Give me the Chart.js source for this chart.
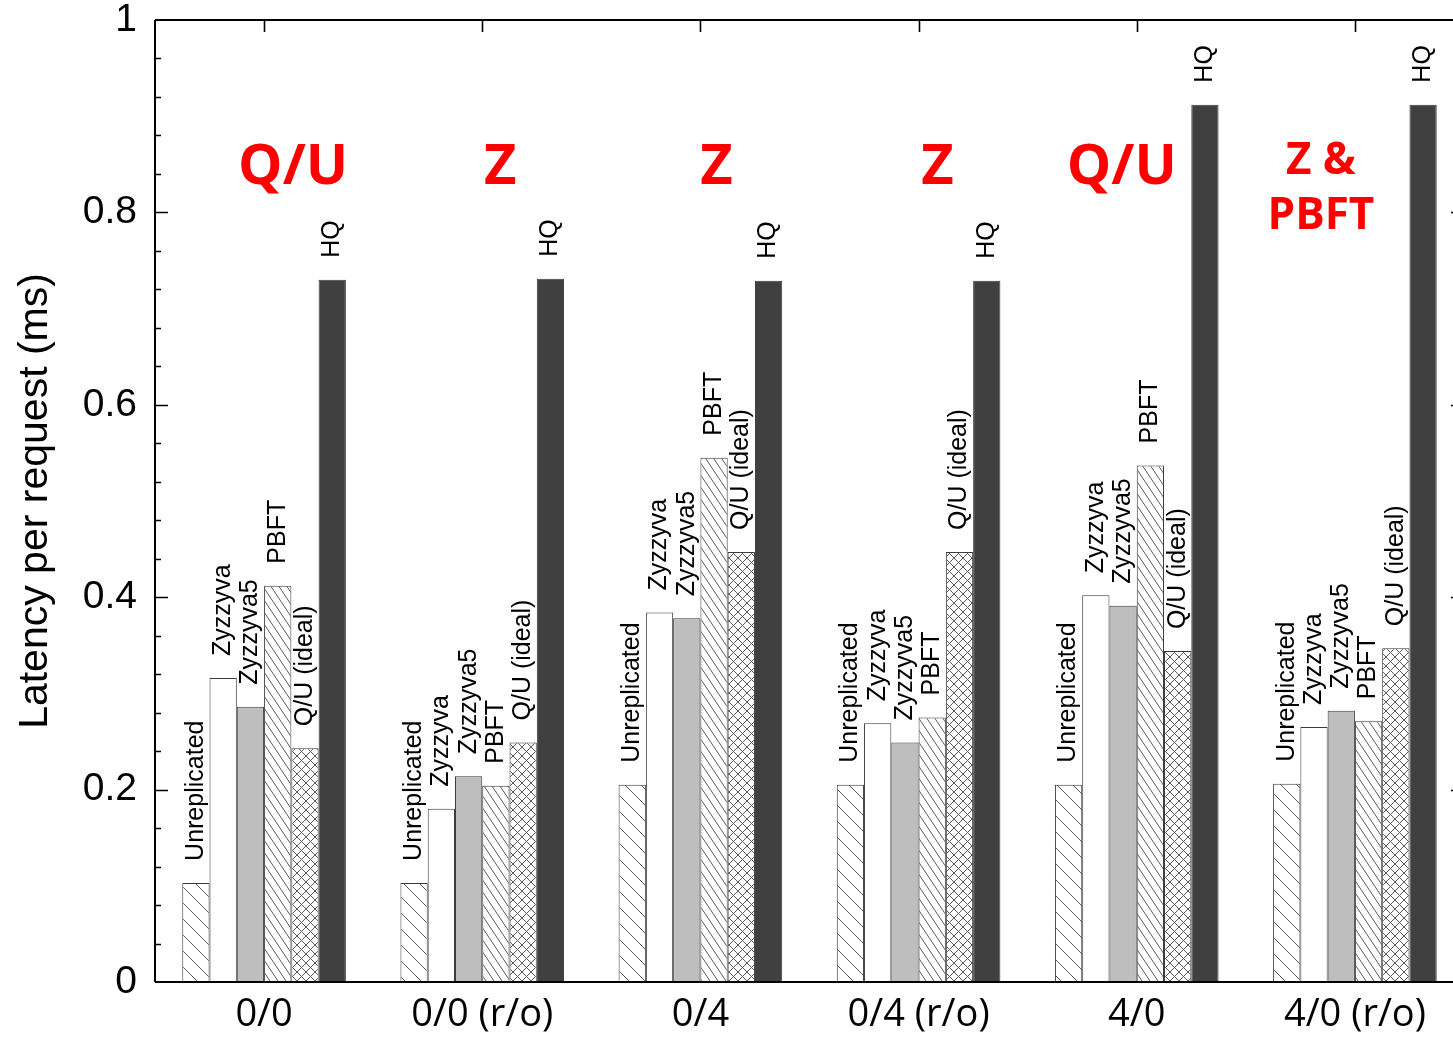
<!DOCTYPE html>
<html>
<head>
<meta charset="utf-8">
<title>Latency per request</title>
<script src="https://cdn.jsdelivr.net/npm/chart.js@4.4.1/dist/chart.umd.min.js"></script>
<style>
  html, body { margin: 0; padding: 0; background: #fff; overflow: hidden; }
  #wrap { width: 1453px; height: 1038px; overflow: hidden; position: relative; }
  canvas { display: block; }
</style>
</head>
<body>
<div id="wrap"><canvas id="chart" width="1480" height="1038"></canvas></div>
<script>
// Workload configurations (x categories)
const categories = ["0/0", "0/0 (r/o)", "0/4", "0/4 (r/o)", "4/0", "4/0 (r/o)"];

// Latency per request (ms) for each protocol
const unreplicated = [0.103, 0.103, 0.205, 0.205, 0.205, 0.206];
const zyzzyva      = [0.316, 0.180, 0.384, 0.269, 0.402, 0.265];
const zyzzyva5     = [0.286, 0.214, 0.378, 0.249, 0.391, 0.282];
const pbft         = [0.412, 0.204, 0.545, 0.275, 0.537, 0.271];
const quIdeal      = [0.243, 0.249, 0.447, 0.447, 0.344, 0.347];
const hq           = [0.730, 0.731, 0.729, 0.729, 0.912, 0.912];

// Protocol names
const seriesNames = ["Unreplicated", "Zyzzyva", "Zyzzyva5", "PBFT", "Q/U (ideal)", "HQ"];

// Best protocol per configuration (drawn in red above each group)
const winners = [["Q/U"], ["Z"], ["Z"], ["Z"], ["Q/U"], ["Z &", "PBFT"]];

// Y axis ticks
const yMin = 0, yMax = 1, yStep = 0.2, yMinorStep = 0.04;

// ---- hatch patterns ----
function makePattern(w, h, draw, bg) {
  const c = document.createElement('canvas');
  c.width = w; c.height = h;
  const g = c.getContext('2d');
  g.fillStyle = bg || '#ffffff';
  g.fillRect(0, 0, w, h);
  g.strokeStyle = '#5a5a5a';
  g.lineWidth = 1;
  g.beginPath();
  draw(g, w, h);
  g.stroke();
  return g.createPattern(c, 'repeat');
}
function backslash(g, w, h) {
  for (let k = -w; k <= w; k += w) { g.moveTo(k, 0); g.lineTo(k + w, h); }
}
function crossHatch(g, w, h) {
  for (let k = -w; k <= w; k += w) {
    g.moveTo(k, 0); g.lineTo(k + w, h);
    g.moveTo(k + w, 0); g.lineTo(k, h);
  }
}
const sparseHatch = makePattern(16, 16, backslash);
const steepHatch  = makePattern(8, 12, backslash);
const crossFill   = makePattern(9, 9, crossHatch);

const fills = [sparseHatch, '#ffffff', '#bebebe', steepHatch, crossFill, '#404040'];
const seriesValues = [unreplicated, zyzzyva, zyzzyva5, pbft, quIdeal, hq];

const datasets = seriesValues.map((vals, i) => ({
  label: seriesNames[i],
  data: vals,
  backgroundColor: fills[i],
  borderColor: '#3a3a3a',
  borderWidth: 1,
  borderSkipped: false,
  categoryPercentage: 0.75,
  barPercentage: 1.0
}));

// Rotated protocol names above each bar
const barLabels = {
  id: 'barLabels',
  afterDatasetsDraw(chart) {
    const ctx = chart.ctx;
    ctx.save();
    ctx.fillStyle = '#000';
    ctx.font = '25px "Liberation Sans", Arial, sans-serif';
    ctx.textAlign = 'left';
    ctx.textBaseline = 'middle';
    chart.data.datasets.forEach((ds, i) => {
      const meta = chart.getDatasetMeta(i);
      meta.data.forEach(bar => {
        ctx.save();
        ctx.translate(bar.x, bar.y - 22);
        ctx.rotate(-Math.PI / 2);
        ctx.fillText(ds.label, 0, 0);
        ctx.restore();
      });
    });
    ctx.restore();
  }
};

// Frame with inward ticks (left/right on y, top at category centres)
const frame = {
  id: 'frame',
  afterDraw(chart) {
    const ctx = chart.ctx;
    const a = chart.chartArea;
    const y = chart.scales.y, x = chart.scales.x;
    ctx.save();
    ctx.strokeStyle = '#000';
    ctx.lineWidth = 2;
    ctx.beginPath();
    ctx.moveTo(a.left, a.top); ctx.lineTo(a.right, a.top);
    ctx.moveTo(a.left, a.bottom); ctx.lineTo(a.right, a.bottom);
    ctx.moveTo(a.left, a.top); ctx.lineTo(a.left, a.bottom);
    ctx.moveTo(a.right, a.top); ctx.lineTo(a.right, a.bottom);
    ctx.stroke();
    ctx.lineWidth = 1.6;
    ctx.beginPath();
    const n = Math.round((yMax - yMin) / yMinorStep);
    for (let i = 1; i < n; i++) {
      const v = yMin + i * yMinorStep;
      const py = Math.round(y.getPixelForValue(v)) + 0.5;
      const major = Math.abs(v / yStep - Math.round(v / yStep)) < 1e-6;
      const len = major ? 13 : 6;
      ctx.moveTo(a.left, py); ctx.lineTo(a.left + len, py);
      ctx.moveTo(a.right, py); ctx.lineTo(a.right - len, py);
    }
    categories.forEach((c, i) => {
      const px = Math.round(x.getPixelForValue(i)) + 0.5;
      ctx.moveTo(px, a.top); ctx.lineTo(px, a.top + 12);
    });
    ctx.stroke();
    ctx.restore();
  }
};

// Red annotations naming the best protocol per group
const winnerShift = [29, 18, 16, 19, -15, -34];
const winnerNotes = {
  id: 'winnerNotes',
  afterDraw(chart) {
    const ctx = chart.ctx;
    const x = chart.scales.x;
    ctx.save();
    ctx.fillStyle = '#ff0000';
    ctx.textAlign = 'center';
    ctx.textBaseline = 'alphabetic';
    winners.forEach((lines, i) => {
      const cx = x.getPixelForValue(i) + winnerShift[i];
      if (lines.length === 1) {
        ctx.font = 'bold 56px "Open Sans", sans-serif';
        ctx.fillText(lines[0], cx, 184);
      } else {
        ctx.font = 'bold 44px "Open Sans", sans-serif';
        lines.forEach((t, k) => ctx.fillText(t, cx, 174 + k * 55));
      }
    });
    ctx.restore();
  }
};

new Chart(document.getElementById('chart'), {
  type: 'bar',
  data: { labels: categories, datasets },
  options: {
    responsive: false,
    animation: false,
    devicePixelRatio: 1,
    layout: { padding: { top: 20, right: 16, bottom: 0, left: 0 } },
    plugins: { legend: { display: false }, tooltip: { enabled: false } },
    scales: {
      x: {
        offset: true,
        grid: { display: false, drawTicks: false },
        border: { display: false },
        ticks: {
          color: '#000',
          padding: 14,
          maxRotation: 0,
          autoSkip: false,
          font: { family: '"Open Sans", sans-serif', size: 38, lineHeight: 1 }
        },
        afterFit(s) { s.height = 56; s.paddingLeft = 0; s.paddingRight = 0; }
      },
      y: {
        min: yMin, max: yMax,
        grid: { display: false, drawTicks: false },
        border: { display: false },
        ticks: {
          stepSize: yStep,
          color: '#000',
          padding: 18,
          font: { family: '"Liberation Sans", Arial, sans-serif', size: 39, lineHeight: 1 },
          callback: v => String(Number(v.toFixed(2)))
        },
        title: {
          display: true,
          text: 'Latency per request (ms)',
          color: '#000',
          padding: { top: 11, bottom: 0 },
          font: { family: '"Liberation Sans", Arial, sans-serif', size: 41, lineHeight: 1.2 }
        },
        afterFit(s) { s.width = 155; s.paddingTop = 0; s.paddingBottom = 0; }
      }
    }
  },
  plugins: [barLabels, frame, winnerNotes]
});
</script>
</body>
</html>
